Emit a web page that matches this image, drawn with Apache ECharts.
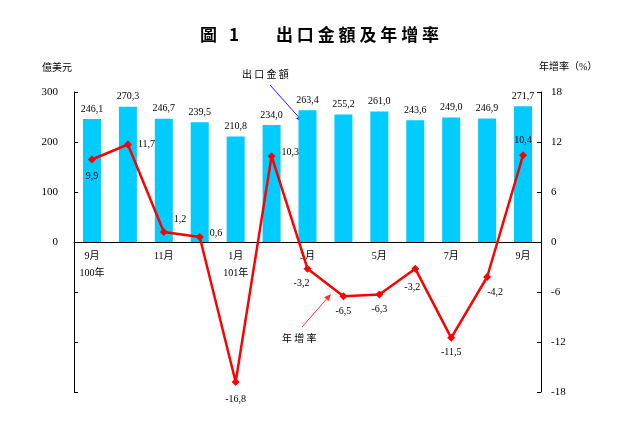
<!DOCTYPE html>
<html>
<head>
<meta charset="utf-8">
<script src="https://cdn.jsdelivr.net/npm/echarts@6/dist/echarts.min.js"></script>
<style>
  html, body { margin: 0; padding: 0; background: #fff; }
  #chart { width: 623px; height: 437px; }
</style>
</head>
<body>
<div id="chart"></div>
<script>
// 月份 (100年9月 ~ 101年9月)
var months = ['9月\n100年', '10月', '11月', '12月', '1月\n101年', '2月', '3月',
  '4月', '5月', '6月', '7月', '8月', '9月'];
// 出口金額 (億美元)
var exportValue = [246.1, 270.3, 246.7, 239.5, 210.8, 234.0, 263.4, 255.2, 261.0, 243.6, 249.0, 246.9, 271.7];
// 年增率 (%)
var growthRate = [9.9, 11.7, 1.2, 0.6, -16.8, 10.3, -3.2, -6.5, -6.3, -3.2, -11.5, -4.2, 10.4];
// 軸刻度
var leftTicks = [0, 100, 200, 300];
var rightTicks = [-18, -12, -6, 0, 6, 12, 18];

var FONT = "'Liberation Serif', 'Noto Sans CJK TC'";
var CJK = "'Noto Sans CJK TC'";

// 年增率 標籤位置
var rateLabelPos = ['bottom', 'right', 'insideBottomLeft', 'right', 'bottom', 'right',
  'bottom', 'bottom', 'bottom', 'bottom', 'bottom', 'bottom', 'top'];
var rateLabelOffset = [[0, 2], [0, 0], [8, -6], [0, -4], [0, 2], [0, -4],
  [-6, 0], [0, 0], [0, 0], [-3, 4], [0, 0], [8, 0], [0, 0]];

function fmt(v) {
  return v.toFixed(1).replace('.', ',');
}

function arrow(x1, y1, x2, y2, color) {
  var ang = Math.atan2(y2 - y1, x2 - x1);
  var len = 7, w = 3;
  var bx = x2 - len * Math.cos(ang), by = y2 - len * Math.sin(ang);
  var px = -Math.sin(ang) * w, py = Math.cos(ang) * w;
  return [
    { type: 'line', shape: { x1: x1, y1: y1, x2: bx, y2: by }, style: { stroke: color, lineWidth: 1 } },
    { type: 'polygon', shape: { points: [[x2, y2], [bx + px, by + py], [bx - px, by - py]] }, style: { fill: color } }
  ];
}

var chart = echarts.init(document.getElementById('chart'));

var titleFont = "bold 17px " + CJK;
var graphics = [
  { type: 'text', left: 200, top: 26, style: { text: '圖', font: titleFont, fill: '#000' } },
  { type: 'text', left: 229, top: 26, style: { text: '1', font: titleFont, fill: '#000' } },
  { type: 'text', left: 276, top: 26, style: { text: '出 口 金 額 及 年 增 率', font: titleFont, fill: '#000' } },
  { type: 'text', left: 42, top: 62, style: { text: '億美元', font: "10px " + CJK, fill: '#000' } },
  { type: 'text', left: 539, top: 62, style: { text: '年增率（%）', font: "10px " + FONT, fill: '#000' } },
  { type: 'text', left: 242, top: 69, style: { text: '出 口 金 額', font: "10px " + CJK, fill: '#000' } },
  { type: 'text', left: 282, top: 333, style: { text: '年 增 率', font: "10px " + CJK, fill: '#000' } }
].concat(arrow(270, 85, 303, 122, '#2020ff')).concat(arrow(302, 327, 331, 294, '#ff3030'));

chart.setOption({
  animation: false,
  backgroundColor: '#fff',
  grid: { left: 74, right: 82, top: 92, bottom: 45 },
  graphic: graphics,
  xAxis: {
    type: 'category',
    data: months,
    offset: -150,
    axisLine: { onZero: false, lineStyle: { color: '#000', width: 1 } },
    axisTick: { inside: true, length: 4, interval: 0, lineStyle: { color: '#000' } },
    axisLabel: { interval: 1, color: '#000', fontSize: 10, fontFamily: FONT, lineHeight: 17, margin: 6 },
    splitLine: { show: false }
  },
  yAxis: [
    {
      type: 'value', min: -300, max: 300, interval: 100,
      axisLine: { show: true, onZero: false, lineStyle: { color: '#000' } },
      axisTick: { show: true, inside: true, length: 4, lineStyle: { color: '#000' } },
      axisLabel: {
        color: '#000', fontSize: 11, fontFamily: FONT, margin: 16,
        formatter: function (v) { return leftTicks.indexOf(v) >= 0 ? String(v) : ''; }
      },
      splitLine: { show: false }
    },
    {
      type: 'value', min: -18, max: 18, interval: 6, position: 'right',
      axisLine: { show: true, onZero: false, lineStyle: { color: '#000' } },
      axisTick: { show: true, inside: true, length: 4, lineStyle: { color: '#000' } },
      axisLabel: {
        color: '#000', fontSize: 11, fontFamily: FONT, margin: 10,
        formatter: function (v) { return rightTicks.indexOf(v) >= 0 ? String(v) : ''; }
      },
      splitLine: { show: false }
    }
  ],
  series: [
    {
      name: '出口金額',
      type: 'bar',
      yAxisIndex: 0,
      barWidth: 18,
      data: exportValue,
      itemStyle: { color: '#00ccff' },
      label: {
        show: true, position: 'top', distance: 5, color: '#000',
        fontSize: 10, fontFamily: FONT,
        formatter: function (p) { return fmt(p.value); }
      }
    },
    {
      name: '年增率',
      type: 'line',
      yAxisIndex: 1,
      symbol: 'diamond',
      symbolSize: 8,
      lineStyle: { color: '#ff0000', width: 2.5 },
      itemStyle: { color: '#ff0000' },
      data: growthRate.map(function (v, i) {
        return {
          value: v,
          label: { position: rateLabelPos[i], offset: rateLabelOffset[i] }
        };
      }),
      label: {
        show: true, color: '#000', fontSize: 10, fontFamily: FONT, distance: 6,
        formatter: function (p) { return fmt(p.value); }
      },
      z: 3
    }
  ]
});
</script>
</body>
</html>
